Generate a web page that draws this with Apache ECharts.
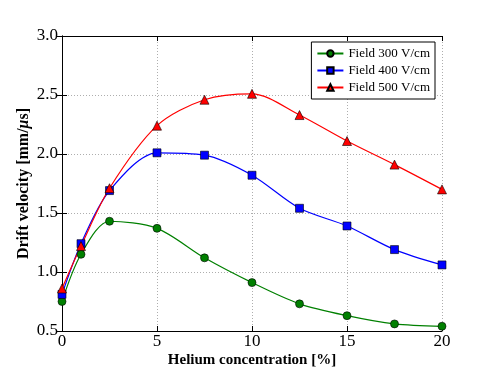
<!DOCTYPE html>
<html>
<head>
<meta charset="utf-8">
<script src="https://cdn.jsdelivr.net/npm/echarts@6/dist/echarts.min.js"></script>
<style>
  html, body { margin: 0; padding: 0; background: #fff; }
  #chart { width: 491px; height: 368px; }
</style>
</head>
<body>
<div id="chart"></div>
<script>
// helium concentration [%]
const helium = [0, 1, 2.5, 5, 7.5, 10, 12.5, 15, 17.5, 20];
const field300 = [0.75, 1.15, 1.43, 1.37, 1.12, 0.91, 0.73, 0.63, 0.56, 0.54];
const field400 = [0.81, 1.24, 1.69, 2.01, 1.99, 1.82, 1.54, 1.39, 1.19, 1.06];
const field500 = [0.86, 1.22, 1.71, 2.24, 2.46, 2.51, 2.33, 2.11, 1.91, 1.70];
const seriesNames = ['Field 300 V/cm', 'Field 400 V/cm', 'Field 500 V/cm'];

const serif = '"Liberation Serif", "DejaVu Serif", serif';

const pairs = (ys) => helium.map((x, i) => [x, ys[i]]);

function makeSeries(name, ys, color, symbol) {
    return {
        name,
        type: 'line',
        data: pairs(ys),
        smooth: 0.3,
        symbol,
        symbolSize: symbol === 'triangle' ? 9 : 8,
        showAllSymbol: true,
        lineStyle: { color, width: 1.2 },
        itemStyle: { color, borderColor: '#000', borderWidth: 0.6 },
        emphasis: { disabled: true },
        z: 3,
    };
}

const chart = echarts.init(document.getElementById('chart'));

const axisCommon = {
    axisLine: { show: true, lineStyle: { color: '#000', width: 1 } },
    axisTick: { show: true, inside: true, length: 5, lineStyle: { color: '#000' } },
};

chart.setOption({
    animation: false,
    backgroundColor: '#fff',
    grid: { left: 62, right: 49, top: 36, bottom: 37, outerBoundsMode: 'none', containLabel: false },
    legend: {
        orient: 'vertical',
        right: 56,
        top: 42,
        itemWidth: 26,
        itemHeight: 8,
        itemGap: 4,
        padding: [5, 5, 5, 5],
        backgroundColor: '#fff',
        borderColor: '#000',
        borderWidth: 1,
        borderRadius: 0,
        textStyle: { fontFamily: serif, fontSize: 13, color: '#000' },
        data: seriesNames,
    },
    xAxis: [
        {
            ...axisCommon,
            type: 'value',
            min: 0,
            max: 20,
            interval: 5,
            name: 'Helium concentration [%]',
            nameLocation: 'middle',
            nameGap: 22,
            nameMoveOverlap: false,
            nameTextStyle: { fontFamily: serif, fontWeight: 'bold', fontSize: 15, color: '#000' },
            axisLabel: { fontFamily: serif, fontSize: 17, color: '#000', margin: 2 },
            splitLine: { show: true, lineStyle: { color: '#999', type: [1, 2], width: 0.8 } },
        },
        {
            ...axisCommon,
            type: 'value',
            position: 'top',
            min: 0,
            max: 20,
            interval: 5,
            axisLabel: { show: false },
            splitLine: { show: false },
        },
    ],
    yAxis: [
        {
            ...axisCommon,
            type: 'value',
            min: 0.5,
            max: 3.0,
            interval: 0.5,
            name: 'Drift velocity [mm/{i|μ}s]',
            nameLocation: 'middle',
            nameGap: 30,
            nameMoveOverlap: false,
            nameTextStyle: {
                fontFamily: serif, fontWeight: 'bold', fontSize: 16, color: '#000',
                rich: { i: { fontFamily: serif, fontStyle: 'italic', fontSize: 16, color: '#000' } },
            },
            axisLabel: {
                fontFamily: serif, fontSize: 17, color: '#000', margin: 4,
                formatter: (v) => v.toFixed(1),
            },
            splitLine: { show: true, lineStyle: { color: '#999', type: [1, 2], width: 0.8 } },
        },
        {
            ...axisCommon,
            type: 'value',
            position: 'right',
            min: 0.5,
            max: 3.0,
            interval: 0.5,
            axisLabel: { show: false },
            splitLine: { show: false },
        },
    ],
    series: [
        makeSeries(seriesNames[0], field300, '#008000', 'circle'),
        makeSeries(seriesNames[1], field400, '#0000ff', 'rect'),
        makeSeries(seriesNames[2], field500, '#ff0000', 'triangle'),
    ],
});
</script>
</body>
</html>
